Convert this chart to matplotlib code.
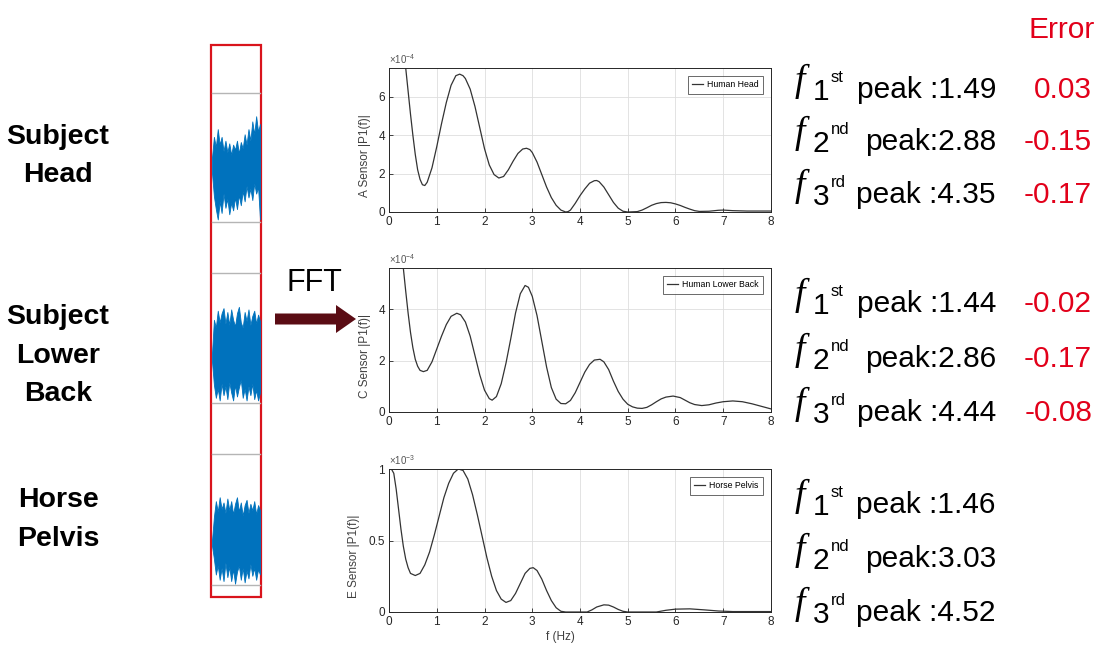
"""
Slide figure: raw accelerometer traces -> FFT spectra -> detected peaks.

Three sensor locations (subject head, subject lower back, horse pelvis).
Left: the raw signal strip, middle: single-sided spectrum |P1(f)|,
right: the first three peak frequencies and their error vs the horse.
"""

import matplotlib.pyplot as plt
from matplotlib.patches import FancyArrow, Rectangle

W, H = 1102, 652

# ---------------------------------------------------------------------------
# Data
# ---------------------------------------------------------------------------

# Head spectrum, amplitude in units of 1e-4
HEAD_F = [0.20, 0.25, 0.30, 0.35, 0.40, 0.45, 0.50, 0.55, 0.60, 0.65, 0.70, 0.75, 0.80,
          0.90, 1.00, 1.10, 1.20, 1.30, 1.40, 1.48, 1.55, 1.60,
          1.70, 1.80, 1.90, 2.00, 2.10, 2.20, 2.30, 2.40, 2.50, 2.60, 2.70, 2.80,
          2.88, 2.95, 3.00, 3.10, 3.20, 3.30, 3.40, 3.50, 3.60, 3.70, 3.75,
          3.80, 3.90, 4.00, 4.10, 4.20, 4.30, 4.35,
          4.40, 4.50, 4.60, 4.70, 4.80, 4.90, 5.00,
          5.20, 5.30, 5.40, 5.50, 5.60, 5.70, 5.80, 5.90, 6.00, 6.10, 6.20, 6.30, 6.40, 6.50,
          6.70, 6.90, 7.00, 7.20, 7.50, 8.00]
HEAD_P = [10.6, 9.5, 8.6, 7.5, 6.3, 5.1, 4.0, 3.0, 2.2, 1.7, 1.42, 1.38, 1.55,
          2.3, 3.4, 4.6, 5.7, 6.6, 7.1, 7.18, 7.1, 6.95,
          6.4, 5.5, 4.4, 3.3, 2.45, 1.95, 1.77, 1.85, 2.2, 2.65, 3.05, 3.28,
          3.32, 3.25, 3.1, 2.6, 1.95, 1.3, 0.75, 0.35, 0.1, 0.0, 0.02,
          0.1, 0.45, 0.85, 1.2, 1.5, 1.63, 1.64,
          1.58, 1.3, 0.9, 0.5, 0.2, 0.04, 0.0,
          0.02, 0.1, 0.22, 0.35, 0.44, 0.49, 0.5, 0.48, 0.42, 0.34, 0.24, 0.15, 0.07, 0.03,
          0.04, 0.09, 0.1, 0.07, 0.05, 0.05]

# Lower back spectrum, units of 1e-4
BACK_F = [0.25, 0.30, 0.35, 0.40, 0.45, 0.50, 0.55, 0.60, 0.65, 0.72, 0.80,
          0.90, 1.00, 1.10, 1.20, 1.30, 1.42,
          1.50, 1.60, 1.70, 1.80, 1.90, 2.00, 2.10, 2.16,
          2.25, 2.35, 2.45, 2.55, 2.65, 2.75, 2.85, 2.92,
          3.00, 3.10, 3.20, 3.30, 3.40, 3.50, 3.60, 3.70, 3.80, 3.90, 4.00, 4.10, 4.20, 4.30, 4.42,
          4.50, 4.60, 4.70, 4.80, 4.90, 5.00, 5.10, 5.20, 5.30, 5.40, 5.50, 5.60, 5.70, 5.80, 5.95,
          6.10, 6.20, 6.30, 6.40, 6.55, 6.70, 6.85, 7.00, 7.20, 7.40, 7.60, 7.80, 8.00]
BACK_P = [6.5, 5.6, 4.7, 3.85, 3.1, 2.5, 2.05, 1.78, 1.62, 1.57, 1.62,
          1.95, 2.45, 2.95, 3.4, 3.72, 3.84,
          3.78, 3.5, 2.95, 2.2, 1.45, 0.85, 0.52, 0.46,
          0.6, 1.1, 1.9, 2.85, 3.85, 4.6, 4.92, 4.85,
          4.5, 3.75, 2.75, 1.75, 0.95, 0.5, 0.33, 0.32, 0.45, 0.75, 1.15, 1.55, 1.85, 2.02, 2.05,
          1.95, 1.65, 1.2, 0.8, 0.5, 0.3, 0.2, 0.15, 0.14, 0.18, 0.28, 0.4, 0.51, 0.58, 0.62,
          0.56, 0.46, 0.36, 0.29, 0.25, 0.28, 0.35, 0.4, 0.43, 0.4, 0.32, 0.22, 0.12]

# Horse pelvis spectrum, units of 1e-3
PELVIS_F = [0.00, 0.05, 0.10, 0.15, 0.20, 0.25, 0.30, 0.35, 0.40, 0.45,
            0.55, 0.65, 0.75, 0.85, 0.95, 1.05, 1.15, 1.25, 1.35, 1.45, 1.55, 1.65, 1.75,
            1.85, 1.95, 2.05, 2.15, 2.25, 2.35, 2.45, 2.55, 2.65, 2.75, 2.85, 2.95,
            3.02, 3.10, 3.20, 3.30, 3.40, 3.50, 3.60, 3.70,
            4.15, 4.25, 4.35, 4.50, 4.60, 4.70, 4.80, 4.90, 5.00,
            5.60, 5.80, 6.00, 6.30, 6.60, 6.90, 7.20, 8.00]
PELVIS_P = [1.02, 1.0, 0.97, 0.86, 0.72, 0.58, 0.46, 0.37, 0.31, 0.27,
            0.255, 0.27, 0.33, 0.42, 0.54, 0.67, 0.8, 0.9, 0.97, 1.0, 0.99, 0.93, 0.82,
            0.68, 0.53, 0.38, 0.25, 0.15, 0.09, 0.067, 0.08, 0.13, 0.2, 0.27, 0.305,
            0.31, 0.29, 0.23, 0.15, 0.08, 0.03, 0.005, 0.0,
            0.0, 0.015, 0.035, 0.05, 0.048, 0.035, 0.018, 0.005, 0.0,
            0.0, 0.012, 0.02, 0.022, 0.015, 0.007, 0.003, 0.003]

# Raw signal strip: envelope of the dense trace, as fraction of each mini-axes
SIG_X = [i / 25 for i in range(26)]
HEAD_SIG_HI = [0.50, 0.66, 0.58, 0.72, 0.60, 0.66, 0.55, 0.63, 0.54, 0.61, 0.52, 0.60, 0.56,
               0.63, 0.53, 0.62, 0.57, 0.68, 0.60, 0.72, 0.63, 0.78, 0.68, 0.82, 0.70, 0.76]
HEAD_SIG_LO = [0.38, 0.20, 0.10, 0.02, 0.16, 0.07, 0.22, 0.11, 0.18, 0.06, 0.15, 0.09, 0.19,
               0.10, 0.21, 0.13, 0.24, 0.16, 0.28, 0.19, 0.26, 0.17, 0.30, 0.22, 0.27, 0.02]
BACK_SIG_HI = [0.38, 0.64, 0.58, 0.71, 0.62, 0.69, 0.73, 0.61, 0.70, 0.60, 0.72, 0.64, 0.59,
               0.69, 0.74, 0.62, 0.58, 0.70, 0.63, 0.72, 0.60, 0.67, 0.71, 0.61, 0.68, 0.63]
BACK_SIG_LO = [0.32, 0.14, 0.04, 0.11, 0.02, 0.15, 0.06, 0.13, 0.03, 0.16, 0.08, 0.02, 0.14,
               0.05, 0.12, 0.18, 0.04, 0.11, 0.02, 0.13, 0.06, 0.15, 0.03, 0.10, 0.02, 0.08]
PELVIS_SIG_HI = [0.34, 0.52, 0.64, 0.56, 0.67, 0.58, 0.63, 0.55, 0.66, 0.57, 0.64, 0.54, 0.62,
                 0.67, 0.56, 0.63, 0.53, 0.61, 0.65, 0.55, 0.62, 0.57, 0.64, 0.54, 0.61, 0.57]
PELVIS_SIG_LO = [0.30, 0.20, 0.08, 0.15, 0.04, 0.13, 0.03, 0.17, 0.06, 0.14, 0.03, 0.12, 0.01,
                 0.10, 0.15, 0.04, 0.13, 0.02, 0.11, 0.05, 0.16, 0.07, 0.13, 0.04, 0.12, 0.08]

LOCATIONS = [["Subject", "Head"], ["Subject", "Lower", "Back"], ["Horse", "Pelvis"]]
LEGENDS = ["Human Head", "Human Lower Back", "Horse Pelvis"]
YLABELS = ["A Sensor |P1(f)|", "C Sensor |P1(f)|", "E Sensor |P1(f)|"]
EXPONENTS = [-4, -4, -3]
YTICKS = [[0, 2, 4, 6], [0, 2, 4], [0, 0.5, 1]]
YTICKLABELS = [["0", "2", "4", "6"], ["0", "2", "4"], ["0", "0.5", "1"]]
YMAX = [7.5, 5.6, 1.0]

PEAK_ORDINALS = [("1", "st", "peak :"), ("2", "nd", "peak:"), ("3", "rd", "peak :")]
PEAKS = [["1.49", "2.88", "4.35"], ["1.44", "2.86", "4.44"], ["1.46", "3.03", "4.52"]]
ERRORS = [["0.03", "-0.15", "-0.17"], ["-0.02", "-0.17", "-0.08"], None]

# ---------------------------------------------------------------------------
# Layout (pixels, origin top-left) and colours
# ---------------------------------------------------------------------------

SPEC_BOX = [(389, 68, 771, 212), (389, 268, 771, 412), (389, 469, 771, 612)]
YLABEL_X = [-0.048, -0.048, -0.076]
STRIP_BOX = [(212, 93, 260, 222), (212, 273, 260, 403), (212, 454, 260, 585)]
LABEL_LINES_Y = [[144, 182], [324, 363, 401], [507, 546]]
ROW_BASELINES = [[98, 150, 203], [312, 367, 421], [513, 567, 621]]

SANS = "Liberation Sans"
SERIF = "Liberation Serif"
MATLAB_DARK = "#262626"
MATLAB_BLUE = "#0072bd"
RED = "#e2001a"
ARROW_COLOR = "#5a0c14"


def px_rect(left, top, right, bottom):
    return [left / W, 1 - bottom / H, (right - left) / W, (bottom - top) / H]


def draw_spectrum(ax, freq, amp, i):
    ax.plot(freq, amp, color="#333333", lw=0.9, label=LEGENDS[i])
    ax.set_xlim(0, 8)
    ax.set_ylim(0, YMAX[i])
    ax.set_xticks(range(9))
    ax.set_yticks(YTICKS[i])
    ax.set_yticklabels(YTICKLABELS[i])
    ax.tick_params(direction="in", length=3, width=0.6, labelsize=8.5,
                   colors=MATLAB_DARK, pad=3)
    for s in ax.spines.values():
        s.set_color(MATLAB_DARK)
        s.set_linewidth(0.7)
    ax.grid(color="#dedede", lw=0.6)
    ax.set_axisbelow(True)
    ax.set_ylabel(YLABELS[i], fontsize=8.5, color="#404040")
    ax.yaxis.set_label_coords(YLABEL_X[i], 0.39)
    ax.text(0, 1.015, r"$\times10^{%d}$" % EXPONENTS[i], transform=ax.transAxes,
            fontsize=7, color="#555555", ha="left", va="bottom")
    leg = ax.legend(loc="upper right", fontsize=6.3, frameon=True, fancybox=False,
                    handlelength=1.2, borderaxespad=0.9, borderpad=0.5,
                    handletextpad=0.5)
    leg.get_frame().set_edgecolor(MATLAB_DARK)
    leg.get_frame().set_linewidth(0.6)


def draw_strip(fig, box, hi, lo):
    ax = fig.add_axes(px_rect(*box))
    ax.fill_between(SIG_X, lo, hi, color=MATLAB_BLUE, lw=0.6, edgecolor=MATLAB_BLUE)
    ax.set_xlim(0, 1)
    ax.set_ylim(0, 1)
    ax.set_xticks([])
    ax.set_yticks([])
    ax.patch.set_alpha(0)
    for side in ("left", "right"):
        ax.spines[side].set_visible(False)
    for side in ("top", "bottom"):
        ax.spines[side].set_color("#b5b5b5")
        ax.spines[side].set_linewidth(1.0)


def main():
    plt.rcParams["font.family"] = [SANS, "DejaVu Sans"]
    plt.rcParams["mathtext.fontset"] = "custom"
    plt.rcParams["mathtext.rm"] = SANS

    fig = plt.figure(figsize=(W / 100, H / 100), dpi=100, facecolor="white")

    # canvas in pixel coordinates for the slide decorations
    canvas = fig.add_axes([0, 0, 1, 1])
    canvas.set_xlim(0, W)
    canvas.set_ylim(H, 0)
    canvas.axis("off")

    # location labels
    for lines, ys in zip(LOCATIONS, LABEL_LINES_Y):
        for word, y in zip(lines, ys):
            canvas.text(58, y, word, fontsize=20.5, fontweight="bold",
                        ha="center", va="baseline")

    # raw-signal strip with red frame
    canvas.add_patch(Rectangle((211, 45), 50, 552, fill=False, edgecolor="#d9141c", lw=1.6))
    strips = [(HEAD_SIG_HI, HEAD_SIG_LO), (BACK_SIG_HI, BACK_SIG_LO),
              (PELVIS_SIG_HI, PELVIS_SIG_LO)]
    for box, (hi, lo) in zip(STRIP_BOX, strips):
        draw_strip(fig, box, hi, lo)

    # FFT arrow
    canvas.text(314, 291, "FFT", fontsize=22, ha="center", va="baseline")
    canvas.add_patch(FancyArrow(275, 319, 81, 0, width=11, head_width=28,
                                head_length=20, length_includes_head=True,
                                color=ARROW_COLOR, lw=0))

    # spectra
    spectra = [(HEAD_F, HEAD_P), (BACK_F, BACK_P), (PELVIS_F, PELVIS_P)]
    for i, (box, (f, p)) in enumerate(zip(SPEC_BOX, spectra)):
        ax = fig.add_axes(px_rect(*box))
        draw_spectrum(ax, f, p, i)
        if i == 2:
            ax.set_xlabel("f (Hz)", fontsize=8.5, color="#404040")
            ax.xaxis.set_label_coords(0.45, -0.13)

    # peak table
    canvas.text(1095, 38, "Error", fontsize=21.5, color=RED, ha="right", va="baseline")
    for i in range(3):
        for j, (num, sup, word) in enumerate(PEAK_ORDINALS):
            b = ROW_BASELINES[i][j]
            canvas.text(795, b - 7, "f", fontsize=27, fontstyle="italic",
                        family=[SERIF, "DejaVu Serif"], ha="left", va="baseline")
            canvas.text(813, b + 2, num, fontsize=21.5, ha="left", va="baseline")
            canvas.text(831, b - 16, sup, fontsize=12, ha="left", va="baseline")
            canvas.text(996, b, word + PEAKS[i][j], fontsize=21.5, ha="right", va="baseline")
            if ERRORS[i] is not None:
                canvas.text(1092, b, ERRORS[i][j], fontsize=21.5, color=RED,
                            ha="right", va="baseline")

    fig.savefig("out.png", dpi=100)
    plt.close(fig)


if __name__ == "__main__":
    main()
